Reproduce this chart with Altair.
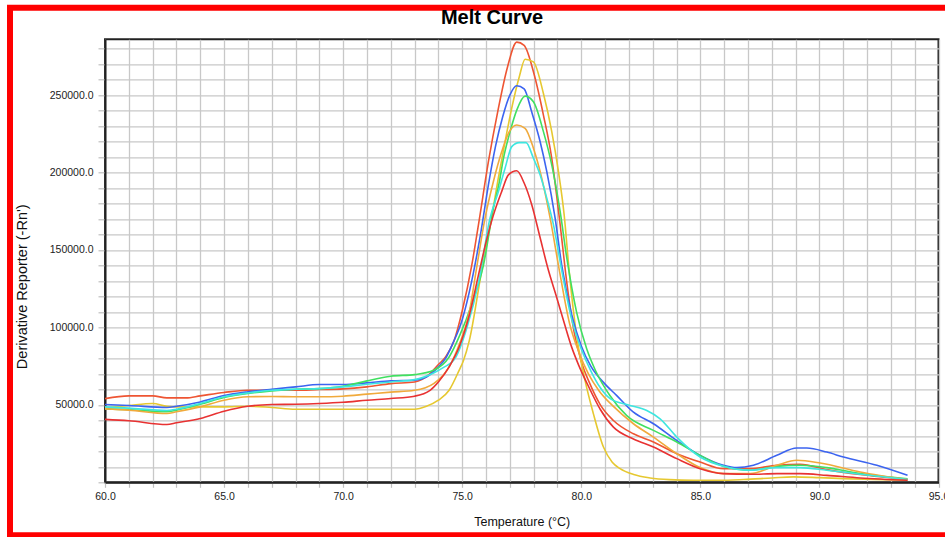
import altair as alt
import pandas as pd

# ---- data ----
names = ["A", "Y", "B", "G", "O", "C", "R"]
colors = ["#ee5533", "#e6c830", "#3c64f0", "#40e060", "#f0aa3c", "#3ee6e0", "#e83232"]

A_T = [60, 61, 62, 62.6, 63.4, 64, 65, 66, 67, 68, 69, 70, 71, 72, 73, 73.65, 74.0, 74.3, 74.65, 75.0, 75.4, 75.7, 76.1, 76.5, 76.9, 77.29, 77.6, 78.03, 78.41, 78.76, 79.1, 79.4, 79.7, 80.0, 80.35, 80.8, 81.35, 82.19, 83.03, 84.01, 84.99, 85.97, 87.09, 88.21, 89.19, 90.31, 91.71, 93.7]
A_V = [54000, 55800, 55800, 54500, 54500, 55800, 58000, 59400, 59400, 59400, 59900, 60300, 61600, 63700, 64800, 70200, 76000, 81000, 91000, 110600, 140000, 168000, 207000, 240000, 268000, 284200, 282100, 262800, 237100, 209200, 168000, 128000, 97000, 78000, 64000, 50000, 39900, 31300, 26000, 18500, 13100, 8800, 8800, 11000, 11600, 8200, 5000, 1800]

Y_T = [60, 61, 62, 62.6, 63, 64, 65, 66, 67, 68, 69, 70, 71, 72, 73, 73.5, 74.0, 74.45, 74.87, 75.05, 75.3, 75.8, 76.2, 76.5, 76.8, 77.1, 77.4, 77.64, 77.99, 78.41, 78.76, 79.04, 79.28, 79.5, 79.8, 80.16, 80.51, 80.93, 81.3, 81.63, 82.2, 82.89, 83.7, 84.71, 85.8, 86.81, 88.0, 88.91, 90.0, 91.01, 92.3, 93.7]
Y_V = [48100, 49600, 50900, 49100, 48700, 48700, 48700, 49100, 48300, 47200, 47200, 47200, 47200, 47200, 47200, 49100, 53000, 59400, 72300, 78500, 91600, 135000, 168000, 195000, 220000, 243000, 262000, 273100, 271400, 251000, 226400, 200700, 172800, 135000, 95000, 65600, 44200, 22800, 13000, 8800, 5000, 2800, 1700, 1300, 1300, 1800, 2800, 3500, 3000, 2400, 1800, 1300]

B_T = [60, 61, 62.6, 63, 64, 65, 66, 67, 68, 69, 70, 71, 72, 73, 73.5, 74.0, 74.3, 74.6, 75.0, 75.4, 75.8, 76.1, 76.4, 76.7, 77.0, 77.29, 77.6, 77.92, 78.27, 78.55, 78.9, 79.18, 79.6, 80.0, 80.4, 80.93, 81.49, 82.19, 83.03, 84.01, 84.99, 85.97, 86.53, 87.23, 88.21, 89.05, 89.47, 90.31, 91.01, 92.41, 93.7]
B_V = [50200, 49600, 48300, 49100, 51900, 56000, 58400, 60100, 61600, 63100, 63100, 64200, 65500, 65900, 68000, 74500, 80000, 89500, 105000, 130000, 163000, 192000, 217000, 236000, 250000, 256000, 254000, 239000, 220000, 200700, 170700, 140000, 108000, 88000, 75000, 64500, 56000, 45300, 37800, 27000, 17400, 11000, 9500, 11000, 17400, 22100, 22100, 19500, 16300, 11000, 4500]

G_T = [60, 61, 62.6, 63, 64, 65, 66, 67, 68, 69, 70, 71, 72, 73, 73.8, 74.45, 74.9, 75.4, 75.89, 76.31, 76.56, 76.73, 77.01, 77.29, 77.64, 77.99, 78.41, 78.76, 79.11, 79.39, 79.8, 80.23, 80.6, 81.2, 81.91, 83.03, 84.01, 84.99, 85.97, 87.09, 88.21, 89.19, 90.31, 91.71, 93.7]
G_V = [47400, 47000, 45500, 46600, 50400, 54700, 57300, 59000, 60100, 60500, 62000, 65500, 68500, 69500, 72300, 80900, 95000, 115000, 140000, 177000, 194000, 209000, 226400, 240300, 249300, 245700, 226400, 204900, 175000, 145000, 110000, 86000, 72000, 56000, 43000, 33500, 26000, 17400, 10300, 7800, 10300, 11000, 9500, 5600, 2200]

O_T = [60, 61, 62.6, 63, 64, 65, 66, 67, 68, 69, 70, 71, 72, 73, 73.8, 74.45, 74.9, 75.3, 75.6, 75.96, 76.31, 76.66, 76.94, 77.29, 77.64, 77.99, 78.34, 78.69, 79.1, 79.5, 79.9, 80.3, 80.75, 81.35, 82.19, 83.03, 84.01, 84.99, 85.97, 87.09, 88.21, 89.05, 90.03, 91.71, 93.7]
O_V = [47400, 46600, 44400, 45500, 48700, 53000, 55200, 55400, 55200, 55200, 55600, 56900, 58200, 59400, 63700, 74500, 90000, 110000, 138000, 170700, 194200, 213500, 225300, 230700, 228500, 215700, 196400, 170700, 135000, 103000, 84000, 70000, 59000, 49000, 37800, 29200, 18500, 9500, 5600, 5600, 11000, 14200, 12500, 6700, 1800]

C_T = [60, 61, 62.6, 63, 64, 65, 66, 67, 68, 69, 70, 71, 72, 73, 73.8, 74.2, 74.7, 75.2, 75.7, 76.17, 76.52, 76.8, 77.08, 77.39, 77.68, 77.99, 78.27, 78.55, 78.83, 79.2, 79.6, 80.0, 80.4, 80.8, 81.21, 81.91, 82.75, 83.31, 84.01, 84.99, 85.97, 87.09, 88.21, 89.19, 90.31, 91.71, 93.7]
C_V = [48700, 47900, 46400, 47200, 50900, 55200, 57700, 59400, 60100, 60500, 61600, 63300, 64800, 66300, 70600, 74000, 80000, 100000, 130000, 170700, 187800, 202800, 216700, 219300, 219300, 209200, 198500, 183500, 166400, 135000, 105000, 86000, 72000, 61000, 54000, 50200, 46300, 41000, 29200, 16300, 10300, 7800, 9500, 9500, 7800, 5200, 1800]

R_T = [60, 61, 62.6, 63, 64, 65, 66, 67, 68, 69, 70, 71, 72, 73, 73.65, 74.0, 74.45, 74.87, 75.3, 75.7, 76.0, 76.3, 76.66, 76.94, 77.29, 77.6, 77.92, 78.27, 78.6, 78.97, 79.3, 79.6, 79.88, 80.3, 80.8, 81.35, 82.19, 83.03, 84.01, 84.99, 85.97, 87.09, 88.21, 89.19, 90.31, 91.71, 93.7]
R_V = [40600, 39700, 37300, 38400, 41200, 45900, 49100, 50200, 50400, 50900, 51700, 53000, 54100, 55600, 59400, 64800, 74500, 87300, 108000, 135000, 155000, 172000, 187800, 198500, 201100, 193200, 179200, 158000, 138000, 119200, 102000, 87100, 76000, 62000, 47000, 35600, 28000, 22800, 15300, 8800, 5600, 5200, 5600, 5600, 4500, 2800, 1300]

series = {"A": (A_T, A_V), "Y": (Y_T, Y_V), "B": (B_T, B_V), "G": (G_T, G_V),
          "O": (O_T, O_V), "C": (C_T, C_V), "R": (R_T, R_V)}

rows = []
for name, (ts, vs) in series.items():
    for t, v in zip(ts, vs):
        rows.append({"curve": name, "temp": t, "value": v})
df = pd.DataFrame(rows)

FONT = "Liberation Sans"

lines = alt.Chart(df).mark_line(strokeWidth=1.6, interpolate="monotone", clip=True).encode(
    x=alt.X("temp:Q",
            scale=alt.Scale(domain=[60, 95], nice=False, zero=False),
            axis=alt.Axis(values=list(range(60, 96)),
                          labelExpr="datum.value % 5 === 0 ? format(datum.value, '.1f') : ''",
                          title="Temperature (°C)",
                          titleY=43, titleBaseline="alphabetic",
                          tickSize=5, labelPadding=4)),
    y=alt.Y("value:Q",
            scale=alt.Scale(domain=[0, 286000], nice=False, zero=False),
            axis=alt.Axis(values=list(range(0, 290000, 10000)),
                          labelExpr="(datum.value % 50000 === 0 && datum.value > 0) ? format(datum.value, '.1f') : ''",
                          title="Derivative Reporter (-Rn')",
                          titleX=-83, titleY=247, titleAngle=-90,
                          titleAlign="center", titleBaseline="middle",
                          titleFontSize=14.5,
                          tickSize=7, labelPadding=5)),
    color=alt.Color("curve:N", scale=alt.Scale(domain=names, range=colors), legend=None),
)

border = alt.Chart(alt.Data(values=[{}])).mark_rect(
    fillOpacity=0, stroke="#ff0000", strokeWidth=6
).encode(
    x=alt.value(-95), x2=alt.value(900), y=alt.value(-31.6), y2=alt.value(496)
)

title = alt.Chart(alt.Data(values=[{"t": "Melt Curve"}])).mark_text(
    font=FONT, fontSize=20, fontWeight="bold", color="black",
    align="center", baseline="alphabetic"
).encode(
    text="t:N", x=alt.value(387), y=alt.value(-15)
)

chart = alt.layer(lines, border, title).properties(
    width=833.5, height=443,
    padding={"left": 105, "top": 39.3, "right": 6.5, "bottom": 54.7},
    autosize=alt.AutoSizeParams(type="none"),
    background="white",
).configure_view(
    stroke="#222222", strokeWidth=2
).configure_axis(
    grid=True, gridColor="#c8c8c8", gridWidth=1.3,
    tickColor="#c0c0c0", tickWidth=1.2,
    domainColor="#222222", domainWidth=2,
    labelFont=FONT, labelFontSize=10.5, labelColor="#222222",
    titleFont=FONT, titleFontSize=12.5, titleFontWeight="normal", titleColor="#111111",
    labelOverlap=False, labelFlush=False,
)

chart.save("out.html", embed_options={"renderer": "svg", "actions": False})
